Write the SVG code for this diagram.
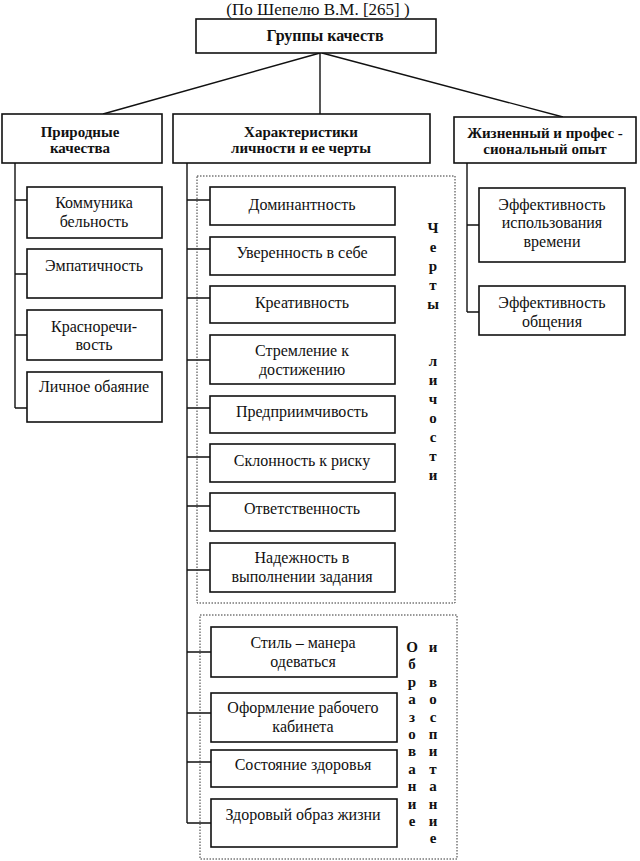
<svg xmlns="http://www.w3.org/2000/svg" width="640" height="861" viewBox="0 0 640 861">
<style>
.bg{fill:#fff}
.box{fill:#fff;stroke:#111;stroke-width:1.6}
.dot{fill:none;stroke:#333;stroke-width:1;stroke-dasharray:1.5 1.5}
.ln{fill:none;stroke:#111;stroke-width:1.4}
.t{font-family:"Liberation Serif","Times New Roman",serif;font-size:16px;fill:#111;text-anchor:middle}
.h{font-family:"Liberation Serif","Times New Roman",serif;font-size:15px;font-weight:bold;fill:#111;text-anchor:middle}
.v{font-family:"Liberation Serif","Times New Roman",serif;font-size:15px;font-weight:bold;fill:#111;text-anchor:middle}
.title{font-family:"Liberation Serif","Times New Roman",serif;font-size:17px;fill:#111;text-anchor:middle}
</style>
<rect class="bg" x="0" y="0" width="640" height="861"/>
<text class="title" x="318" y="15">(По Шепелю В.М. [265] )</text>

<g id="connectors">
  <path class="ln" d="M320,53 L103,114 M320,53 L320,114 M322,53 L563,117"/>
  <path class="ln" d="M15,163 L15,408 M15,200 L27,200 M15,274 L27,274 M15,335 L27,335 M15,408 L27,408"/>
  <path class="ln" d="M187,163 L187,823 M187,200 L210,200 M187,249 L210,249 M187,298 L210,298 M187,360 L210,360 M187,408 L210,408 M187,457 L210,457 M187,506 L210,506 M187,570 L210,570 M187,652 L211,652 M187,713 L211,713 M187,762 L211,762 M187,823 L211,823"/>
  <path class="ln" d="M467,163 L467,312 M467,225 L479,225 M467,312 L479,312"/>
</g>

<g id="root">
  <rect class="box" x="196" y="19" width="240" height="34"/>
  <text class="h" x="325" y="41" style="font-size:16px">Группы качеств</text>
</g>

<g id="natural">
  <rect class="box" x="2" y="114" width="160" height="49"/>
  <text class="h" x="80" y="137">Природные</text>
  <text class="h" x="80" y="153">качества</text>
</g>
<g id="characteristics">
  <rect class="box" x="173" y="114" width="257" height="49"/>
  <text class="h" x="301" y="137">Характеристики</text>
  <text class="h" x="301" y="153">личности и ее черты</text>
</g>
<g id="experience">
  <rect class="box" x="454" y="117" width="182" height="46"/>
  <text class="h" x="545" y="138">Жизненный и профес -</text>
  <text class="h" x="545" y="154">сиональный опыт</text>
</g>

<g id="n-communication">
  <rect class="box" x="27" y="187" width="135" height="51"/>
  <text class="t" x="94" y="208">Коммуника</text>
  <text class="t" x="94" y="227">бельность</text>
</g>
<g id="n-empathy">
  <rect class="box" x="27" y="249" width="135" height="49"/>
  <text class="t" x="94" y="271">Эмпатичность</text>
</g>
<g id="n-eloquence">
  <rect class="box" x="27" y="310" width="135" height="50"/>
  <text class="t" x="94" y="332">Красноречи-</text>
  <text class="t" x="94" y="350">вость</text>
</g>
<g id="n-charm">
  <rect class="box" x="27" y="372" width="135" height="50"/>
  <text class="t" x="94" y="392">Личное обаяние</text>
</g>

<g id="traits-frame">
  <rect class="dot" x="197" y="176" width="258" height="427"/>
  <text class="v" x="433" y="233">Ч</text>
  <text class="v" x="433" y="252">е</text>
  <text class="v" x="433" y="271">р</text>
  <text class="v" x="433" y="290">т</text>
  <text class="v" x="433" y="309">ы</text>
  <text class="v" x="433" y="366">л</text>
  <text class="v" x="433" y="385">и</text>
  <text class="v" x="433" y="404">ч</text>
  <text class="v" x="433" y="423">о</text>
  <text class="v" x="433" y="442">с</text>
  <text class="v" x="433" y="461">т</text>
  <text class="v" x="433" y="480">и</text>
</g>

<g id="m-dominance">
  <rect class="box" x="210" y="187" width="185" height="38"/>
  <text class="t" x="302" y="210">Доминантность</text>
</g>
<g id="m-confidence">
  <rect class="box" x="210" y="237" width="185" height="38"/>
  <text class="t" x="302" y="258">Уверенность в себе</text>
</g>
<g id="m-creativity">
  <rect class="box" x="210" y="286" width="185" height="37"/>
  <text class="t" x="302" y="308">Креативность</text>
</g>
<g id="m-achievement">
  <rect class="box" x="210" y="335" width="185" height="49"/>
  <text class="t" x="302" y="356">Стремление к</text>
  <text class="t" x="302" y="375">достижению</text>
</g>
<g id="m-enterprise">
  <rect class="box" x="210" y="396" width="185" height="37"/>
  <text class="t" x="302" y="417">Предприимчивость</text>
</g>
<g id="m-risk">
  <rect class="box" x="210" y="444" width="185" height="38"/>
  <text class="t" x="302" y="466">Склонность к риску</text>
</g>
<g id="m-responsibility">
  <rect class="box" x="210" y="493" width="185" height="38"/>
  <text class="t" x="302" y="514">Ответственность</text>
</g>
<g id="m-reliability">
  <rect class="box" x="210" y="543" width="185" height="49"/>
  <text class="t" x="302" y="563">Надежность в</text>
  <text class="t" x="302" y="582">выполнении задания</text>
</g>

<g id="education-frame">
  <rect class="dot" x="200" y="615" width="257" height="244"/>
  <text class="v" x="412" y="652">О</text>
  <text class="v" x="412" y="669">б</text>
  <text class="v" x="412" y="687">р</text>
  <text class="v" x="412" y="704">а</text>
  <text class="v" x="412" y="722">з</text>
  <text class="v" x="412" y="739">о</text>
  <text class="v" x="412" y="756">в</text>
  <text class="v" x="412" y="774">а</text>
  <text class="v" x="412" y="791">н</text>
  <text class="v" x="412" y="809">и</text>
  <text class="v" x="412" y="826">е</text>
  <text class="v" x="433" y="652">и</text>
  <text class="v" x="433" y="687">в</text>
  <text class="v" x="433" y="704">о</text>
  <text class="v" x="433" y="722">с</text>
  <text class="v" x="433" y="739">п</text>
  <text class="v" x="433" y="756">и</text>
  <text class="v" x="433" y="774">т</text>
  <text class="v" x="433" y="791">а</text>
  <text class="v" x="433" y="809">н</text>
  <text class="v" x="433" y="826">и</text>
  <text class="v" x="433" y="843">е</text>
</g>

<g id="m-style">
  <rect class="box" x="211" y="627" width="186" height="50"/>
  <text class="t" x="303" y="648">Стиль – манера</text>
  <text class="t" x="303" y="667">одеваться</text>
</g>
<g id="m-office">
  <rect class="box" x="211" y="693" width="186" height="49"/>
  <text class="t" x="303" y="713">Оформление рабочего</text>
  <text class="t" x="303" y="732">кабинета</text>
</g>
<g id="m-health">
  <rect class="box" x="211" y="750" width="186" height="37"/>
  <text class="t" x="303" y="770">Состояние здоровья</text>
</g>
<g id="m-lifestyle">
  <rect class="box" x="211" y="799" width="186" height="48"/>
  <text class="t" x="303" y="820">Здоровый образ жизни</text>
</g>

<g id="r-time">
  <rect class="box" x="479" y="188" width="146" height="74"/>
  <text class="t" x="552" y="210">Эффективность</text>
  <text class="t" x="552" y="228">использования</text>
  <text class="t" x="552" y="247">времени</text>
</g>
<g id="r-communication">
  <rect class="box" x="479" y="286" width="146" height="49"/>
  <text class="t" x="552" y="308">Эффективность</text>
  <text class="t" x="552" y="327">общения</text>
</g>
</svg>
